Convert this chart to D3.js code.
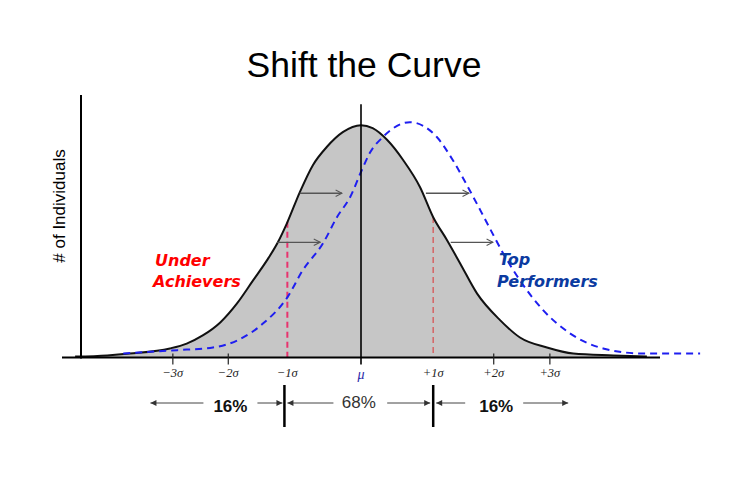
<!DOCTYPE html>
<html>
<head>
<meta charset="utf-8">
<script src="https://cdn.jsdelivr.net/npm/d3@7"></script>
<style>
  body { margin: 0; background: #fff; }
  svg { display: block; }
</style>
</head>
<body>
<svg id="chart" width="750" height="479"></svg>
<script>
// current distribution (x in sigma units, height relative to peak)
const curX = [-3.92,-3.48,-3.17,-2.62,-2.39,-2.17,-1.93,-1.70,-1.48,-1.29,-1.14,-1.01,-0.84,-0.66,-0.47,-0.25,0,0.16,0.36,0.58,0.81,0.99,1.18,1.36,1.59,1.91,2.18,2.55,2.91,3.46,3.92];
const curY = [0.004,0.009,0.017,0.039,0.060,0.095,0.151,0.233,0.332,0.418,0.496,0.582,0.711,0.828,0.906,0.970,1.0,0.987,0.936,0.849,0.733,0.604,0.505,0.405,0.276,0.160,0.086,0.043,0.017,0.009,0.004];
// shifted distribution
const shiftX = [-3.26,-2.62,-2.39,-2.03,-1.70,-1.34,-1.01,-0.80,-0.52,-0.33,-0.15,0.01,0.12,0.30,0.67,1.04,1.26,1.49,1.73,1.95,2.18,2.50,2.87,3.32,3.87,4.65];
const shiftY = [0.017,0.030,0.034,0.043,0.073,0.147,0.259,0.375,0.492,0.604,0.690,0.806,0.880,0.949,1.013,0.949,0.849,0.720,0.578,0.448,0.332,0.203,0.103,0.039,0.017,0.017];

const tickVals = [-2.58,-1.82,-1.01,0,0.99,1.82,2.59];
const tickLabels = ["\u22123\u03c3","\u22122\u03c3","\u22121\u03c3","\u03bc","+1\u03c3","+2\u03c3","+3\u03c3"];
const bigTicks = [-2.58,-1.82,1.82,2.59];

// shift arrows: start, end, height
const arrowFrom = [-0.84,-1.15,0.89,1.23];
const arrowTo = [-0.26,-0.56,1.48,1.81];
const arrowH = [0.707,0.496,0.707,0.496];

// -1 sigma / +1 sigma markers
const markX = [-1.01,0.99];
const markH = [0.584,0.605];
const markClr = ["#e8336e","#d46a6a"];

const pctLabels = ["16%","68%","16%"];

const svg = d3.select("#chart");
const x = d3.scaleLinear().domain([-4.1,4.1]).range([62,660]);
const y = d3.scaleLinear().domain([0,1.13]).range([357.5,95]);

const cur = curX.map((v,i)=>[v,curY[i]]);
const shifted = shiftX.map((v,i)=>[v,shiftY[i]]);

const defs = svg.append("defs");
defs.append("marker").attr("id","open").attr("viewBox","0 0 10 10")
  .attr("refX",9).attr("refY",5).attr("markerWidth",8).attr("markerHeight",8)
  .attr("markerUnits","userSpaceOnUse").attr("orient","auto")
  .append("path").attr("d","M1,1 L9,5 L1,9").attr("fill","none").attr("stroke","#555").attr("stroke-width",1.3);
defs.append("marker").attr("id","solid").attr("viewBox","0 0 10 10")
  .attr("refX",10).attr("refY",5).attr("markerWidth",7).attr("markerHeight",6)
  .attr("markerUnits","userSpaceOnUse").attr("orient","auto-start-reverse")
  .append("path").attr("d","M0,0 L10,5 L0,10 Z").attr("fill","#333");

// title
svg.append("text").attr("x",364).attr("y",77).attr("text-anchor","middle")
  .attr("font-family","Liberation Sans, Arial, sans-serif").attr("font-size",35.5)
  .attr("fill","#000").text("Shift the Curve");

// y label
svg.append("text").attr("transform","translate(65,206) rotate(-90)")
  .attr("text-anchor","middle").attr("font-family","Liberation Sans, Arial, sans-serif")
  .attr("font-size",17).attr("fill","#000").text("# of Individuals");

// area
const area = d3.area().x(d=>x(d[0])).y0(y(0)).y1(d=>y(d[1])).curve(d3.curveMonotoneX);
svg.append("path").datum(cur).attr("d",area).attr("fill","#c6c6c6");

// -1 / +1 sigma dashed markers
svg.selectAll(".mark").data(markX).enter().append("line")
  .attr("x1",d=>x(d)).attr("x2",d=>x(d))
  .attr("y1",(d,i)=>y(markH[i])).attr("y2",y(0))
  .attr("stroke",(d,i)=>markClr[i]).attr("stroke-width",(d,i)=>i===0?2:1.6)
  .attr("stroke-dasharray","6,4");

// grey curve outline
const line = d3.line().x(d=>x(d[0])).y(d=>y(d[1])).curve(d3.curveMonotoneX);
svg.append("path").datum(cur).attr("d",line).attr("fill","none")
  .attr("stroke","#111").attr("stroke-width",2);

// shifted curve
svg.append("path").datum(shifted).attr("d",line).attr("fill","none")
  .attr("stroke","#1e1ef0").attr("stroke-width",2).attr("stroke-dasharray","7,5");

// mean line
svg.append("line").attr("x1",x(0)).attr("x2",x(0)).attr("y1",y(1.09)).attr("y2",y(-0.03))
  .attr("stroke","#000").attr("stroke-width",1.6);

// shift arrows
svg.selectAll(".shift").data(arrowFrom).enter().append("line")
  .attr("x1",d=>x(d)).attr("x2",(d,i)=>x(arrowTo[i]))
  .attr("y1",(d,i)=>y(arrowH[i])).attr("y2",(d,i)=>y(arrowH[i]))
  .attr("stroke","#555").attr("stroke-width",1.3).attr("marker-end","url(#open)");

// axes
svg.append("line").attr("x1",81).attr("x2",81).attr("y1",y(1.13)).attr("y2",y(0)+1)
  .attr("stroke","#000").attr("stroke-width",2);
svg.append("line").attr("x1",x(-4.1)).attr("x2",x(4.1)).attr("y1",y(0)).attr("y2",y(0))
  .attr("stroke","#000").attr("stroke-width",2);

svg.selectAll(".tk").data(bigTicks).enter().append("line")
  .attr("x1",d=>x(d)).attr("x2",d=>x(d)).attr("y1",y(0)-4).attr("y2",y(0)+7)
  .attr("stroke","#222").attr("stroke-width",1.2);

svg.selectAll(".tl").data(tickVals).enter().append("text")
  .attr("x",d=>x(d)).attr("y",(d,i)=>i===3?379:377).attr("text-anchor","middle")
  .attr("font-family","Liberation Serif, Times New Roman, serif").attr("font-style","italic")
  .attr("font-size",(d,i)=>i===3?14:12.5)
  .attr("fill",(d,i)=>i===3?"#2a2aa8":"#222")
  .text((d,i)=>tickLabels[i]);

// group labels
svg.append("text").attr("font-family","DejaVu Sans, Verdana, sans-serif").attr("font-weight","bold")
  .attr("font-style","italic").attr("font-size",16).attr("fill","#ff0000")
  .selectAll("tspan").data(["Under","Achievers"]).enter().append("tspan")
  .attr("x",(d,i)=>i===0?155:153).attr("y",(d,i)=>266+i*21).text(d=>d);
svg.append("text").attr("font-family","DejaVu Sans, Verdana, sans-serif").attr("font-weight","bold")
  .attr("font-style","italic").attr("font-size",16).attr("fill","#0b3aa0")
  .selectAll("tspan").data(["Top","Performers"]).enter().append("tspan")
  .attr("x",(d,i)=>i===0?499:497).attr("y",(d,i)=>265+i*22).text(d=>d);

// bottom percentage band
const bL = x(-1.05), bR = x(0.99);
const ay = 403;
[bL,bR].forEach(b=>{
  svg.append("line").attr("x1",b).attr("x2",b).attr("y1",385).attr("y2",427)
    .attr("stroke","#000").attr("stroke-width",2.5);
});
const segs = [
  [bL-81,bL-134,true],[bL-27,bL-2,false],
  [bL+49,bL+3,true],[bR-46,bR-3,false],
  [bR+32,bR+3,true],[bR+90,bR+135,false]
];
segs.forEach(s=>{
  svg.append("line").attr("x1",s[0]).attr("x2",s[1]).attr("y1",ay).attr("y2",ay)
    .attr("stroke","#444").attr("stroke-width",1).attr("marker-end","url(#solid)");
});
svg.selectAll(".pct").data(pctLabels).enter().append("text")
  .attr("x",(d,i)=>[bL-54,(bL+bR)/2,bR+63][i])
  .attr("y",(d,i)=>i===1?408:412).attr("text-anchor","middle")
  .attr("font-family","Liberation Sans, Arial, sans-serif").attr("font-size",17)
  .attr("font-weight",(d,i)=>i===1?"normal":"bold")
  .attr("fill",(d,i)=>i===1?"#333":"#111").text(d=>d);
</script>
</body>
</html>
